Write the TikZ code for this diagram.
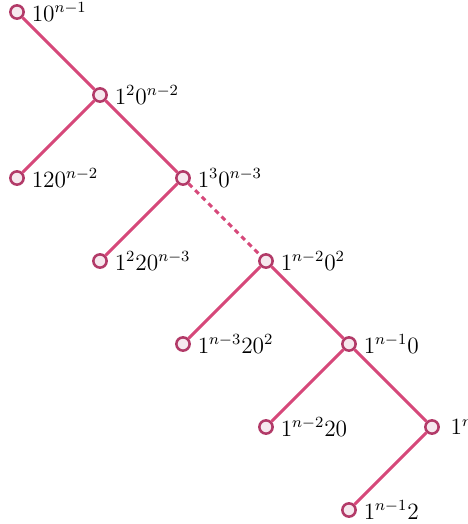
\documentclass[tikz,border=0pt]{standalone}
\usepackage{amsmath, amssymb}
\usepackage{xcolor}
\usetikzlibrary{positioning}

\definecolor{edgepink}{RGB}{214,72,122}
\definecolor{dotrim}{RGB}{178,58,104}
\definecolor{dotfill}{RGB}{246,232,238}

\begin{document}
\begin{tikzpicture}[
    node distance=1.5cm and 1.5cm, on grid,
    word/.style={circle, draw=dotrim, fill=dotfill, line width=1.3pt, inner sep=0pt, minimum size=0.24cm,
        label distance=0pt, label={[font=\large]right:#1}},
    link/.style={edgepink, line width=1.6pt},
    gap/.style={link, dash pattern=on 2.6pt off 2.2pt}
]
\useasboundingbox (-0.307,0.217) rectangle (8.133,-9.253);

\node[word={$10^{n-1}$}] (w1) at (0,0) {};
\node[word={$1^{2}0^{n-2}$}, below right=of w1] (w2) {};
\node[word={$120^{n-2}$}, below left=of w2] (w3) {};
\node[word={$1^{3}0^{n-3}$}, below right=of w2] (w4) {};
\node[word={$1^{2}20^{n-3}$}, below left=of w4] (w5) {};
\node[word={$1^{n-2}0^{2}$}, below right=of w4] (w6) {};
\node[word={$1^{n-3}20^{2}$}, below left=of w6] (w7) {};
\node[word={$1^{n-1}0$}, below right=of w6] (w8) {};
\node[word={$1^{n-2}20$}, below left=of w8] (w9) {};
\node[word=\hspace{2pt}$1^{n}$, below right=of w8] (w10) {};
\node[word={$1^{n-1}2$}, below left=of w10] (w11) {};

\draw[link] (w1) -- (w2);
\draw[link] (w2) -- (w3);
\draw[link] (w2) -- (w4);
\draw[link] (w4) -- (w5);
\draw[gap] (w4) -- (w6);
\draw[link] (w6) -- (w7);
\draw[link] (w6) -- (w8);
\draw[link] (w8) -- (w9);
\draw[link] (w8) -- (w10);
\draw[link] (w10) -- (w11);

\end{tikzpicture}
\end{document}
